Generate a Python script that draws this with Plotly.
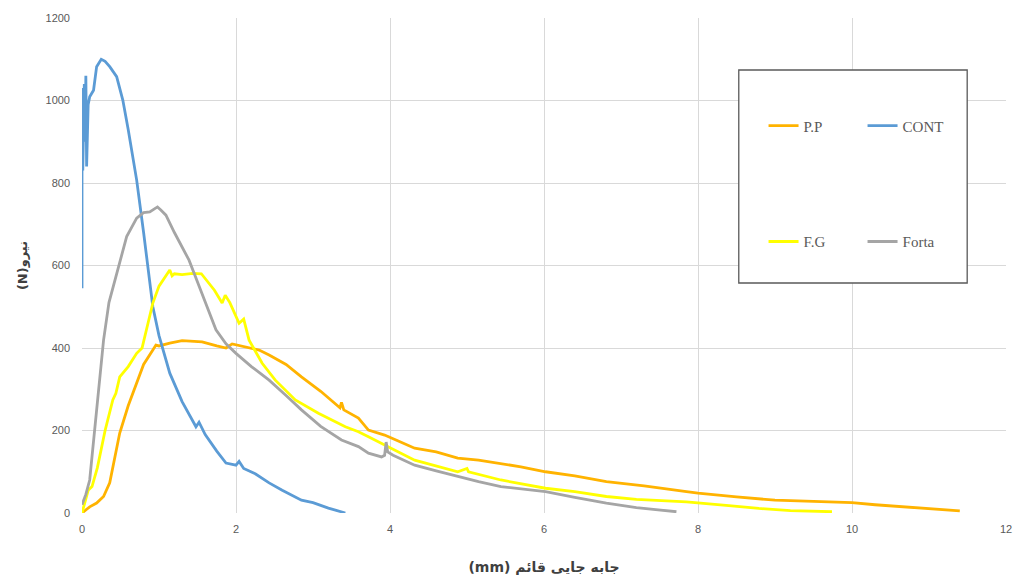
import plotly.graph_objects as go

# ---- data (displacement mm, force N) ----
pp_x = [0, 0.1, 0.19, 0.28, 0.36, 0.42, 0.49, 0.6, 0.71, 0.8, 0.92, 0.96, 1.0, 1.14, 1.3, 1.56, 1.75, 1.87,
        1.95, 2.12, 2.3, 2.43, 2.65, 2.85, 3.1, 3.35, 3.37, 3.4, 3.59, 3.72, 3.93, 4.1, 4.32, 4.6, 4.88, 5.15,
        5.44, 5.7, 6.02, 6.4, 6.81, 7.3, 7.85, 8.0, 8.5, 9.0, 9.5, 10.0, 10.3, 10.7, 11.0, 11.4]
pp_y = [0, 15, 24, 40, 73, 130, 194, 260, 315, 360, 395, 407, 405, 412, 418, 415, 405, 400,
        410, 403, 395, 383, 360, 330, 295, 255, 268, 250, 230, 201, 189, 175, 157, 148, 133, 128,
        120, 112, 100, 90, 76, 66, 52, 48, 39, 31, 28, 25, 20, 15, 10, 5]

cont_x = [0, 0.0, 0.01, 0.03, 0.04, 0.05, 0.06, 0.08, 0.1, 0.15, 0.19, 0.25, 0.3, 0.36, 0.45, 0.53, 0.6,
          0.71, 0.8, 0.88, 0.92, 1.0, 1.14, 1.3, 1.48, 1.52, 1.6, 1.75, 1.87, 2.0, 2.04, 2.1, 2.25, 2.43,
          2.6, 2.85, 3.0, 3.2, 3.37, 3.42]
cont_y = [545, 1030, 830, 1040, 900, 1060, 840, 990, 1009, 1025, 1082, 1100, 1095, 1082, 1058, 1001, 930,
          807, 680, 560, 500, 430, 339, 270, 209, 220, 190, 150, 121, 116, 125, 108, 95, 73,
          55, 31, 25, 12, 3, 0]

fg_x = [0, 0.08, 0.13, 0.2, 0.3, 0.4, 0.44, 0.49, 0.6, 0.71, 0.78, 0.92, 1.0, 1.14, 1.17, 1.2, 1.3, 1.44,
        1.55, 1.61, 1.72, 1.82, 1.86, 1.92, 2.04, 2.1, 2.17, 2.34, 2.51, 2.77, 3.07, 3.42, 3.59, 3.72,
        3.89, 4.32, 4.88, 5.0, 5.02, 5.44, 6.02, 6.4, 6.81, 7.2, 7.85, 8.0, 8.4, 8.79, 9.2, 9.74]
fg_y = [0, 55, 64, 110, 200, 274, 290, 330, 355, 387, 400, 509, 550, 589, 575, 580, 578, 581,
        580, 565, 540, 509, 528, 510, 460, 470, 419, 363, 322, 274, 242, 209, 197, 185,
        169, 128, 100, 108, 100, 80, 60, 52, 40, 33, 27, 25, 18, 11, 6, 3]

forta_x = [0, 0.05, 0.1, 0.19, 0.28, 0.35, 0.45, 0.58, 0.71, 0.8, 0.88, 0.98, 1.02, 1.09, 1.2, 1.39, 1.5,
           1.74, 1.87, 2.0, 2.2, 2.43, 2.65, 2.85, 3.1, 3.37, 3.59, 3.72, 3.89, 3.93, 3.95, 3.97, 4.04,
           4.32, 4.6, 4.88, 5.15, 5.44, 5.7, 6.02, 6.4, 6.81, 7.2, 7.5, 7.72]
forta_y = [20, 45, 80, 258, 419, 510, 581, 670, 715, 728, 730, 742, 735, 722, 680, 613, 560,
           444, 410, 387, 355, 322, 285, 250, 210, 177, 161, 145, 136, 140, 172, 148, 140,
           116, 102, 88, 76, 64, 58, 52, 38, 24, 13, 7, 3]

x_ticks = [0, 2, 4, 6, 8, 10, 12]
y_ticks = [0, 200, 400, 600, 800, 1000, 1200]

x_title = "(mm) جابه جایی قائم"
y_title = "(N)نیرو"

fig = go.Figure()
lw = 2.8
fig.add_trace(go.Scatter(x=pp_x, y=pp_y, mode="lines", name="P.P",
                         line=dict(color="#FFB300", width=lw), legend="legend"))
fig.add_trace(go.Scatter(x=cont_x, y=cont_y, mode="lines", name="CONT",
                         line=dict(color="#5B9BD5", width=lw), legend="legend"))
fig.add_trace(go.Scatter(x=fg_x, y=fg_y, mode="lines", name="F.G",
                         line=dict(color="#FFFF00", width=lw), legend="legend2"))
fig.add_trace(go.Scatter(x=forta_x, y=forta_y, mode="lines", name="Forta",
                         line=dict(color="#A5A5A5", width=lw), legend="legend2"))

tickfont = dict(family="Liberation Sans, Arial", size=11, color="#595959")
legfont = dict(family="Liberation Serif, Times New Roman, serif", size=15, color="#595959")

fig.update_layout(
    width=1020, height=581,
    margin=dict(l=82, r=8, t=18, b=68),
    paper_bgcolor="white", plot_bgcolor="white",
    xaxis=dict(range=[0, 12], tickvals=x_ticks, showgrid=True, gridcolor="#D9D9D9", gridwidth=1,
               zeroline=False, showline=False, tickfont=tickfont, ticks="", ticklabelstandoff=8,
               title=dict(text=x_title,
                          font=dict(family="DejaVu Sans", size=14, color="#404040", weight="bold"),
                          standoff=28)),
    yaxis=dict(range=[0, 1200], tickvals=y_ticks, showgrid=True, gridcolor="#D9D9D9", gridwidth=1,
               zeroline=False, showline=False, tickfont=tickfont, ticks="", ticklabelstandoff=11,
               title=dict(text=y_title,
                          font=dict(family="DejaVu Sans", size=13, color="#404040", weight="bold"),
                          standoff=14)),
    legend=dict(orientation="h", x=0.7376, xanchor="left", y=0.782, yanchor="middle",
                bgcolor="rgba(0,0,0,0)", font=legfont, entrywidth=54, entrywidthmode="pixels",
                itemwidth=30),
    legend2=dict(orientation="h", x=0.7376, xanchor="left", y=0.548, yanchor="middle",
                 bgcolor="rgba(0,0,0,0)", font=legfont, entrywidth=54, entrywidthmode="pixels",
                 itemwidth=30),
    shapes=[dict(type="rect", xref="paper", yref="paper", x0=0.7108, x1=0.958, y0=0.4646, y1=0.895,
                 line=dict(color="#595959", width=1.3), fillcolor="white", layer="above")],
)

fig.write_html("out.html")
